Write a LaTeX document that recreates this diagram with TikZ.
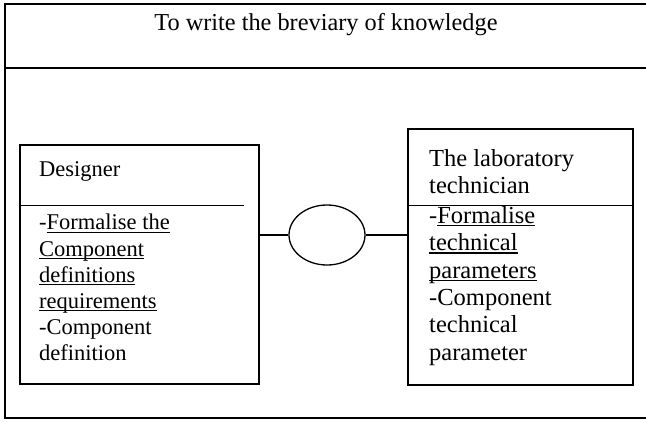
\documentclass[tikz,border=0pt]{standalone}
\usepackage{fontspec}
\setmainfont{Liberation Serif}
\usetikzlibrary{positioning,shapes.geometric}
\newcommand{\undl}[1]{\setbox0\hbox{#1}\rlap{\rule[-3pt]{\wd0}{1.3pt}}\box0}
\tikzset{frame/.style={line width=2pt},
  link/.style={line width=1.3pt},
  classbox/.style={draw,link,inner sep=0pt},
  roletext/.style={anchor=north west,align=left,inner sep=0pt,font=\fontsize{22.5}{26.2}\selectfont},
  bigtext/.style={roletext,font=\fontsize{24.5}{27.4}\selectfont}}

\begin{document}
\begin{tikzpicture}[x=1pt,y=-1pt]
  \useasboundingbox (0,0) rectangle (646,421);

  % frame of the table
  \draw[frame] (646,4) -- (5,4) -- (5,418) -- (646,418);
  \draw[frame] (5,68) -- (646,68);
  \node (title) at (326,30) [anchor=base,inner sep=0pt,font=\fontsize{24.3}{27}\selectfont] {To write the breviary of knowledge};

  % the two roles
  \node[classbox,minimum width=239pt,minimum height=239pt] (designer) at (139.5,264.5) {};
  \node[classbox,minimum width=225pt,minimum height=256pt] (technician) at (520.5,257) {};
  \draw[link] ([yshift=-61pt]designer.north west) -- +(225,0);
  \draw[link] ([yshift=-77pt]technician.north west) -- ([yshift=-77pt]technician.north east);

  \node[roletext] (dname) at (39,161) {Designer};
  \node[roletext] (dtasks) at (39,214) {-\undl{Formalise the}\\ \undl{Component}\\ \undl{definitions}\\ \undl{requirements}\\ -Component\\ definition};
  \node[bigtext] (tname) at (429,149) {The laboratory\\ technician};
  \node[bigtext] (ttasks) at (429,206) {-\undl{Formalise}\\ \undl{technical}\\ \undl{parameters}\\ -Component\\ technical\\ parameter};

  % association
  \node[draw,link,ellipse,minimum width=76pt,minimum height=60pt] (assoc) at (327,235) {};
  \path[link]
  (assoc.west) edge (assoc.west -| designer.east)
  (assoc.east) edge (assoc.east -| technician.west)
  ;
\end{tikzpicture}
\end{document}
